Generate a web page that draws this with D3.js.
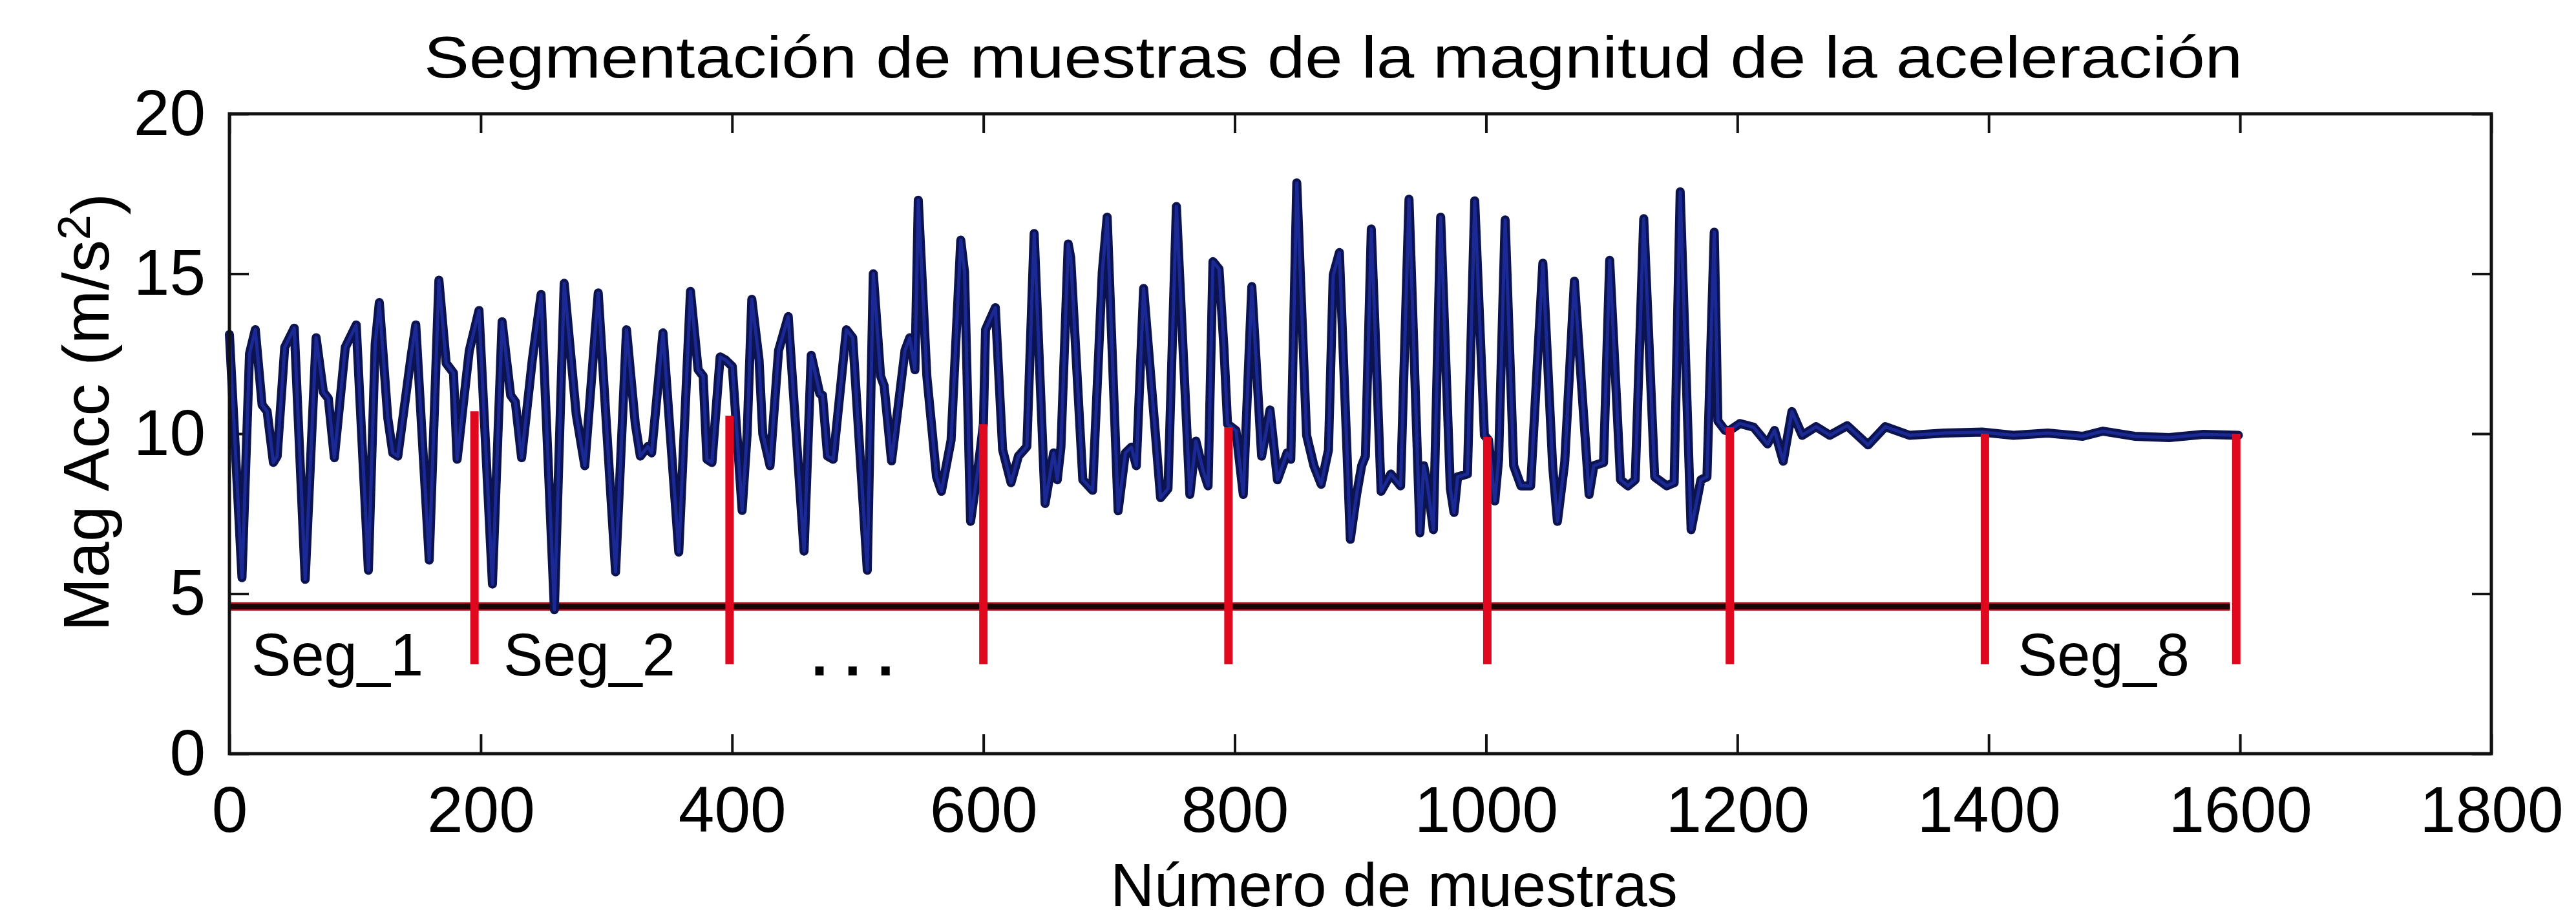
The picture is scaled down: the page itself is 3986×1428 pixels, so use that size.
<!DOCTYPE html>
<html>
<head>
<meta charset="utf-8">
<script src="https://cdn.jsdelivr.net/npm/d3@7"></script>
<style>
  html, body { margin: 0; padding: 0; background: #ffffff; }
  svg { display: block; }
</style>
</head>
<body>
<svg id="chart" width="3986" height="1428"></svg>
<script>
// Acceleration magnitude trace: [sample number, |acc| in m/s^2] at each turning point
const accTrace = [
  [0,13.1],[10,5.5],[16,12.5],[20.6,13.25],[26,10.9],[30,10.7],[35,9.1],[38,9.3],[44,12.7],[51.6,13.3],
  [60.3,5.45],[69,13.0],[74.8,11.3],[78.7,11.1],[83.5,9.25],[92.2,12.7],[100.9,13.4],[110.6,5.73],[116,12.8],[119.3,14.1],
  [126,10.5],[130,9.4],[134,9.3],[144.5,12.4],[148.3,13.4],[159,6.05],[166.7,14.8],[172.5,12.2],[178.3,11.9],[181.2,9.2],
  [190.9,12.6],[198.6,13.85],[209.3,5.3],[217,13.5],[223.8,11.2],[227.5,11.0],[232.5,9.25],[241,12.3],[248,14.35],[258.6,4.5],
  [266.4,14.7],[276,10.6],[282.8,9.0],[293.5,14.4],
  [307.3,5.68],[316,13.25],[323,10.3],[327,9.3],[333,9.6],[336,9.4],[345,13.15],[357.6,6.3],[366.9,14.45],[373,12.0],
  [377,11.8],[380,9.2],[384,9.1],[390.5,12.4],[395,12.3],[400.2,12.1],[408,7.6],[412,10.0],[415.7,14.2],[421.5,12.3],
  [424.4,10.0],[430.2,9.0],[437,12.6],[444.7,13.66],[457.3,6.33],[463,12.45],[469.8,11.25],[472,11.2],[476,9.3],[480.5,9.2],
  [491,13.25],[496,13.0],[507.6,5.73],[512.4,15.0],[518.2,11.8],[521,11.5],[526.9,9.15],[537.6,12.6],[541.4,13.0],[545.5,12.0],
  [548.2,17.3],[555,11.8],[562.7,8.65],[566.6,8.2],[574.3,9.8],[582,16.05],[585,15.05],[589.8,7.26],
  [596,9.0],[600,10.3],[601.7,13.25],[609.5,13.94],[615.3,9.5],[622,8.47],[627.9,9.3],[634.6,9.6],[640.4,16.26],[649.1,7.82],
  [655.9,9.4],[658.8,8.56],[661.7,9.58],[667.5,15.93],[669.5,15.5],[679.1,8.56],[686.9,8.23],[694.6,15.05],[698.5,16.77],[707.2,7.59],
  [713,9.4],[717.8,9.58],[721.7,9.0],[727.5,14.54],[741,8.0],[746.9,8.28],[753.6,17.1],[764.3,8.1],[769.1,9.77],[774.9,8.84],
  [778.8,8.37],[782.7,15.38],[787.5,15.15],[791.4,12.7],[794.3,10.3],[801,10.1],[806.8,8.1],[813.6,14.6],[821.4,9.3],[828.1,10.74],
  [834,8.56],[841.7,9.4],[844.6,9.2],[849.4,17.84],[857.2,9.95],[863,9.0],[868.8,8.42],[874.6,9.49],[878.4,14.96],[883.3,15.66],
  [892,6.7],
  [897,8.1],[901,9.0],[904,9.3],[908.7,16.4],[916.5,8.2],[924.2,8.74],[932,8.37],[938.7,17.33],[947.4,6.9],[950.4,9.0],
  [953,8.5],[958.1,7.0],[963.9,16.77],[971.6,8.28],[974.5,7.54],[977.4,8.65],[985.2,8.74],[991,17.28],[998.7,9.95],[1002,9.8],
  [1007,7.9],[1010,9.2],[1015.2,16.68],[1022,9.0],[1027.8,8.37],[1035.5,8.37],[1045.2,15.33],[1053,9.0],[1056.8,7.26],[1062.6,9.1],
  [1070.3,14.77],[1082,8.1],[1085.8,9.0],[1093.5,9.1],[1098.4,15.42],[1107,8.56],[1112.9,8.37],[1118.7,8.56],[1125.5,16.72],[1134.2,8.65],
  [1143.8,8.37],[1149.7,8.47],[1154.5,17.56],[1163.2,7.0],[1171,8.56],[1175.8,8.65],[1181.6,16.3],[1184.5,10.4],[1190.3,10.1],
  [1193.8,10.1],[1202,10.32],[1213,10.2],[1224,9.68],[1229.6,10.1],[1236.5,9.14],[1243.4,10.69],[1251.6,9.95],[1262.6,10.22],[1273.6,9.95],
  [1287.4,10.25],[1304,9.65],[1317.7,10.22],[1337,9.95],[1364.6,10.02],[1394.9,10.05],[1419.7,9.95],[1447,10.02],[1474.7,9.92],[1491,10.08],
  [1516,9.92],[1543.6,9.88],[1571,9.98],[1598.7,9.95]
];

// Segment boundaries (sample number) and the level each red marker reaches
const segBounds = [195, 398, 600, 795, 1001, 1194, 1397, 1597];
const segTops   = [10.7, 10.56, 10.3, 10.2, 9.9, 10.2, 10.0, 10.0];
const segBottom = 2.8;

// Horizontal reference line under the trace
const baseLevel = 4.6;
const baseSpan  = [0, 1592];

// Segment labels
const segLabels = ["Seg_1", "Seg_2", ". . .", "Seg_8"];
const segLabelX = [17.5, 218, 463, 1423];
const segLabelY = 2.44;

// Axis ticks
const xTicks = [0, 200, 400, 600, 800, 1000, 1200, 1400, 1600, 1800];
const yTicks = [0, 5, 10, 15, 20];

const titleText  = "Segmentación de muestras de la magnitud de la aceleración";
const xLabelText = "Número de muestras";

// ---- layout ----
const FONT = "'Liberation Sans', Arial, Helvetica, sans-serif";
const plot = { left: 355, right: 3855, top: 176, bottom: 1166 };

const svg = d3.select("#chart");
svg.append("rect").attr("width", 3986).attr("height", 1428).attr("fill", "#ffffff");

const x = d3.scaleLinear().domain([0, 1800]).range([plot.left, plot.right]);
const y = d3.scaleLinear().domain([0, 20]).range([plot.bottom, plot.top]);
const plainNum = d3.format("d");

// ---- axes (box with inward ticks) ----
const TICK = 30;
function styleAxis(g) {
  g.select(".domain").remove();
  g.selectAll(".tick line").attr("stroke", "#111").attr("stroke-width", 4);
  g.selectAll(".tick text")
    .attr("fill", "#000")
    .style("font-family", FONT)
    .style("font-size", "100px");
}

svg.append("g")
  .attr("transform", `translate(0,${plot.bottom})`)
  .call(d3.axisBottom(x).tickValues(xTicks).tickFormat(plainNum)
        .tickSize(-TICK).tickSizeOuter(0).tickPadding(50))
  .call(styleAxis);

svg.append("g")
  .attr("transform", `translate(0,${plot.top})`)
  .call(d3.axisTop(x).tickValues(xTicks).tickSize(-TICK).tickSizeOuter(0).tickFormat(""))
  .call(styleAxis);

svg.append("g")
  .attr("transform", `translate(${plot.left},0)`)
  .call(d3.axisLeft(y).tickValues(yTicks).tickFormat(plainNum)
        .tickSize(-TICK).tickSizeOuter(0).tickPadding(37))
  .call(styleAxis);

svg.append("g")
  .attr("transform", `translate(${plot.right},0)`)
  .call(d3.axisRight(y).tickValues(yTicks).tickSize(-TICK).tickSizeOuter(0).tickFormat(""))
  .call(styleAxis);

// ---- horizontal reference line ----
const baseG = svg.append("g");
baseG.append("line")
  .attr("x1", x(baseSpan[0])).attr("x2", x(baseSpan[1]))
  .attr("y1", y(baseLevel)).attr("y2", y(baseLevel))
  .attr("stroke", "#a8101a").attr("stroke-width", 13);
baseG.append("line")
  .attr("x1", x(baseSpan[0])).attr("x2", x(baseSpan[1]))
  .attr("y1", y(baseLevel)).attr("y2", y(baseLevel))
  .attr("stroke", "#1a0606").attr("stroke-width", 8);

// ---- acceleration trace ----
const line = d3.line()
  .x(d => x(d[0]))
  .y(d => y(d[1]))
  .curve(d3.curveLinear);

svg.append("path")
  .datum(accTrace)
  .attr("d", line)
  .attr("fill", "none")
  .attr("stroke", "#0b1350")
  .attr("stroke-width", 14)
  .attr("stroke-linejoin", "round")
  .attr("stroke-linecap", "round");

svg.append("path")
  .datum(accTrace)
  .attr("d", line)
  .attr("fill", "none")
  .attr("stroke", "#2538c0")
  .attr("stroke-opacity", 0.6)
  .attr("stroke-width", 5)
  .attr("stroke-linejoin", "round");

// ---- segment markers ----
svg.append("g")
  .selectAll("line")
  .data(segBounds)
  .join("line")
  .attr("x1", d => x(d)).attr("x2", d => x(d))
  .attr("y1", y(segBottom))
  .attr("y2", (d, i) => y(segTops[i]))
  .attr("stroke", "#e0081f")
  .attr("stroke-width", 13);

// ---- segment labels ----
svg.append("g")
  .selectAll("text")
  .data(segLabels)
  .join("text")
  .attr("x", (d, i) => x(segLabelX[i]))
  .attr("y", y(segLabelY))
  .attr("fill", "#000")
  .style("font-family", FONT)
  .style("font-size", "92px")
  .style("font-weight", (d, i) => (i === 2 ? "bold" : "normal"))
  .text(d => d);

// ---- box ----
svg.append("rect")
  .attr("x", plot.left).attr("y", plot.top)
  .attr("width", plot.right - plot.left)
  .attr("height", plot.bottom - plot.top)
  .attr("fill", "none")
  .attr("stroke", "#111")
  .attr("stroke-width", 5);

// ---- title and axis labels ----
svg.append("text")
  .attr("x", 656).attr("y", 120)
  .attr("textLength", 2814)
  .attr("lengthAdjust", "spacingAndGlyphs")
  .attr("fill", "#000")
  .style("font-family", FONT)
  .style("font-size", "90px")
  .text(titleText);

svg.append("text")
  .attr("x", 2157).attr("y", 1402)
  .attr("text-anchor", "middle")
  .attr("fill", "#000")
  .style("font-family", FONT)
  .style("font-size", "94px")
  .text(xLabelText);

const yLab = svg.append("text")
  .attr("transform", `translate(168,638) rotate(-90)`)
  .attr("text-anchor", "middle")
  .attr("fill", "#000")
  .style("font-family", FONT)
  .style("font-size", "100px");
yLab.append("tspan").text("Mag Acc (m/s");
yLab.append("tspan").attr("dy", "-0.42em").style("font-size", "70px").text("2");
yLab.append("tspan").attr("dy", "0.42em").text(")");
</script>
</body>
</html>
